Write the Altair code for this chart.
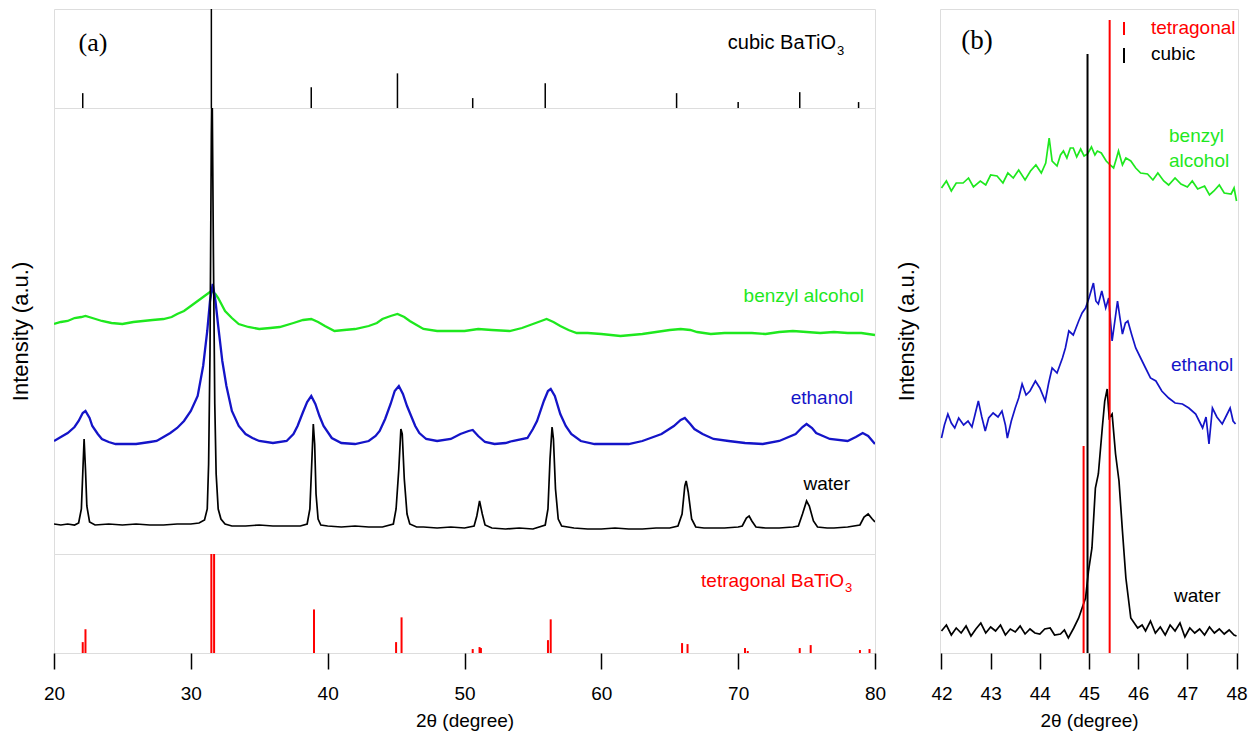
import altair as alt
import pandas as pd

# ---------------- panel (a) reference sticks ----------------
cubic_pos = [22.1, 31.5, 38.8, 45.1, 50.6, 55.9, 65.5, 70.0, 74.5, 78.8]
cubic_int = [15, 100, 21, 35, 10, 25, 15, 6, 16, 6]

tet_pos = [22.1, 22.3, 31.5, 31.7, 39.0, 45.0, 45.4, 50.6, 51.1, 51.2,
           56.1, 56.3, 65.9, 66.3, 70.5, 70.7, 74.5, 75.3, 78.9, 79.6]
tet_int = [11, 24, 100, 100, 44, 11, 36, 4, 6, 5,
           13, 34, 10, 9, 5, 2, 5, 8, 3, 4]

# ---------------- panel (a) patterns ----------------
water_a_x = [20.0, 20.5, 21.0, 21.5, 21.8, 22.0, 22.1, 22.2, 22.3, 22.4, 22.6, 23.0, 24, 25, 26, 27, 28, 29, 30,
             30.6, 31.0, 31.2, 31.3, 31.4, 31.5, 31.55, 31.65, 31.75, 31.85, 32.0, 32.2, 32.5, 33, 34, 35, 36, 37, 38,
             38.5, 38.7, 38.85, 38.95, 39.05, 39.15, 39.3, 39.5, 40, 41, 42, 43, 44, 44.8, 45.0, 45.2, 45.35, 45.45,
             45.6, 45.8, 46.0, 46.5, 47, 48, 49, 50, 50.7, 50.9, 51.1, 51.3, 51.5, 52, 53, 54, 55, 55.9, 56.1, 56.25,
             56.4, 56.5, 56.65, 56.85, 57.1, 58, 59, 60, 61, 62, 63, 64, 65, 65.6, 65.9, 66.1, 66.2, 66.35, 66.6, 66.9,
             67.5, 68, 69, 70, 70.3, 70.6, 70.8, 71.0, 71.3, 72, 73, 74, 74.4, 74.7, 75.0, 75.2, 75.5, 75.8, 76.5, 77,
             78, 78.9, 79.2, 79.5, 79.8, 80]
water_a_y = [30, 29, 30, 29, 31, 45, 80, 115, 85, 48, 32, 29, 30, 29, 30, 29, 29, 30, 30,
             31, 34, 45, 90, 200, 420, 480, 300, 150, 80, 45, 35, 30, 28, 28, 29, 28, 28, 28,
             30, 45, 95, 130, 110, 60, 35, 29, 28, 27, 28, 27, 27, 30, 45, 85, 125, 120,
             75, 40, 30, 27, 27, 26, 27, 26, 28, 38, 53, 40, 29, 26, 25, 26, 25, 29, 45, 95,
             127, 115, 65, 35, 28, 26, 25, 25, 26, 25, 25, 26, 26, 28, 40, 68, 73, 62, 35, 27,
             26, 26, 26, 27, 28, 36, 38, 33, 27, 26, 26, 27, 28, 40, 53, 48, 33, 27, 26, 26,
             27, 29, 37, 40, 35, 32]

eth_a_x = [20, 20.5, 21, 21.5, 21.8, 22.1, 22.3, 22.6, 22.8, 23.2, 23.5, 24, 24.5, 25, 26, 27, 27.5, 28, 28.5, 29,
           29.5, 30.0, 30.5, 30.9, 31.2, 31.4, 31.6, 31.8, 32.0, 32.3, 32.6, 33.0, 33.5, 34, 34.5, 35, 36, 37, 37.5,
           37.8, 38.2, 38.5, 38.8, 39.1, 39.4, 39.7, 40.3, 41, 42, 43, 43.5, 43.8, 44.2, 44.6, 44.9, 45.2, 45.5, 45.8,
           46.1, 46.4, 46.7, 47.2, 48, 49, 49.7, 50.3, 50.6, 51.0, 51.5, 52.2, 53, 53.5, 54.6, 55.0, 55.3, 55.8, 56.1,
           56.3, 56.6, 57.0, 57.4, 57.8, 58.5, 59.5, 61, 62, 63, 64.4, 65.3, 65.8, 66.1, 66.5, 66.8, 67.4, 68.2, 69.3,
           70.5, 71.8, 73, 74.2, 74.7, 75.0, 75.4, 75.7, 76.7, 78, 78.6, 79.1, 79.5, 80]
eth_a_y = [113, 117, 121, 127, 133, 141, 143, 136, 128, 120, 115, 112, 110, 110, 110, 112, 113, 117, 121, 126,
           133, 143, 158, 188, 223, 253, 270, 253, 228, 193, 168, 143, 128, 120, 116, 113, 111, 113, 120,
           128, 142, 152, 158, 150, 138, 128, 116, 111, 110, 113, 118, 123, 135, 150, 163, 168, 160, 148,
           138, 128, 121, 115, 113, 115, 120, 123, 124, 118, 112, 110, 111, 113, 116, 125, 133, 153, 163,
           165, 158, 140, 128, 120, 113, 110, 110, 110, 113, 120, 128, 134, 136, 130, 125, 120, 115, 113,
           111, 110, 113, 120, 127, 130, 126, 121, 115, 113, 117, 121, 118, 110]

benz_a_x = [20, 20.5, 21, 21.5, 22, 22.3, 22.8, 23.5, 24.2, 25, 25.8, 26.5, 27.2, 28, 28.6, 29, 29.5, 30, 30.5, 30.8,
            31.2, 31.5, 31.8, 32.0, 32.5, 33, 33.5, 34.2, 35, 35.8, 36.5, 37.5, 38.2, 38.8, 39.3, 39.8, 40.5, 41.2,
            42, 43, 43.6, 44, 44.6, 45.1, 45.6, 46, 46.5, 47, 48, 49, 50, 51, 52, 53.3, 54.2, 55, 55.6, 56.0, 56.5,
            57, 57.6, 58.2, 59, 60, 61.4, 62.2, 63, 64, 65, 65.8, 66.5, 67, 68, 69, 70, 71, 72, 73, 74, 75, 76, 77,
            78, 79, 80]
benz_a_y = [230, 232, 233, 236, 237, 238, 236, 233, 231, 230, 232, 233, 234, 235, 237, 240, 243, 248, 253, 256,
            260, 263, 260, 256, 243, 236, 230, 227, 225, 226, 227, 231, 234, 235, 232, 228, 223, 224,
            225, 228, 231, 235, 238, 240, 237, 233, 229, 225, 223, 223, 223, 225, 224, 223, 226, 230, 233, 235, 232,
            228, 224, 221, 221, 220, 218, 219, 220, 222, 224, 225, 224, 222, 220, 221, 221, 221, 220, 222, 223, 222,
            221, 222, 221, 221, 219]

# ---------------- panel (b) patterns ----------------
water_b_x = [42.0, 42.1, 42.2, 42.3, 42.4, 42.5, 42.6, 42.7, 42.8, 42.9, 43.0, 43.1, 43.2, 43.3, 43.4, 43.5, 43.6,
             43.7, 43.8, 43.9, 44.0, 44.1, 44.21, 44.3, 44.42, 44.5, 44.58, 44.69, 44.79, 44.86, 44.93, 44.99, 45.06,
             45.13, 45.19, 45.27, 45.32, 45.37, 45.41, 45.47, 45.54, 45.61, 45.68, 45.75, 45.85, 45.99, 46.08, 46.15,
             46.25, 46.35, 46.45, 46.55, 46.65, 46.75, 46.85, 46.95, 47.05, 47.15, 47.25, 47.35, 47.45, 47.55, 47.65,
             47.75, 47.85, 47.95, 48.0]
water_b_y = [22, 28, 18, 25, 20, 27, 17, 24, 30, 20, 26, 22, 28, 18, 24, 21, 27,
             19, 24, 20, 19, 24, 25, 18, 19, 23, 15, 25, 35, 45, 55, 82, 105,
             165, 179, 225, 252, 264, 235, 239, 199, 172, 122, 75, 35, 25, 28, 22,
             32, 20, 26, 18, 28, 22, 30, 16, 25, 20, 24, 18, 26, 20, 24,
             19, 23, 18, 17]

eth_b_x = [42.0, 42.06, 42.13, 42.2, 42.27, 42.35, 42.45, 42.54, 42.62, 42.68, 42.75, 42.82, 42.89, 42.96, 43.05,
           43.15, 43.23, 43.3, 43.34, 43.42, 43.5, 43.57, 43.64, 43.72, 43.8, 43.91, 44.0, 44.11, 44.18, 44.25, 44.35,
           44.46, 44.52, 44.59, 44.68, 44.79, 44.86, 44.93, 45.0, 45.09, 45.14, 45.19, 45.26, 45.34, 45.4, 45.47,
           45.52, 45.58, 45.63, 45.68, 45.74, 45.79, 45.87, 45.95, 46.05, 46.15, 46.25, 46.36, 46.48, 46.62, 46.75,
           46.9, 47.03, 47.17, 47.24, 47.31, 47.38, 47.44, 47.51, 47.6, 47.71, 47.8, 47.87, 47.93, 47.98]
eth_b_y = [215, 228, 239, 230, 225, 235, 228, 232, 226, 238, 252, 236, 222, 235, 240,
           236, 242, 228, 215, 232, 245, 255, 269, 258, 262, 272, 265, 252, 270, 285, 280,
           295, 305, 322, 318, 332, 340, 345, 355, 370, 352, 349, 362, 345, 355, 312,
           330, 352, 335, 319, 330, 332, 318, 305, 295, 285, 275, 272, 262, 255, 250,
           249, 245, 239, 232, 225, 236, 209, 245, 236, 229, 238, 245, 232, 229]

benz_b_x = [42.0, 42.1, 42.2, 42.3, 42.44, 42.55, 42.65, 42.79, 42.9, 43.0, 43.13, 43.25, 43.35, 43.46, 43.57, 43.7,
            43.81, 43.92, 44.03, 44.12, 44.19, 44.25, 44.35, 44.42, 44.48, 44.55, 44.62, 44.68, 44.75, 44.83, 44.9,
            44.97, 45.05, 45.12, 45.17, 45.25, 45.35, 45.43, 45.5, 45.56, 45.6, 45.68, 45.75, 45.85, 45.95, 46.05,
            46.19, 46.3, 46.4, 46.52, 46.62, 46.75, 46.87, 47.0, 47.1, 47.21, 47.35, 47.45, 47.54, 47.65, 47.75,
            47.89, 47.95, 48.0]
benz_b_y = [465, 472, 462, 470, 470, 475, 466, 472, 468, 478, 477, 470, 480, 475, 483, 473,
            482, 488, 480, 490, 515, 492, 487, 498, 502, 495, 505, 505, 496, 504, 497,
            499, 506, 498, 502, 500, 492, 488, 485, 495, 502, 488, 495, 492, 485, 480,
            479, 473, 480, 472, 468, 475, 469, 466, 472, 464, 467, 458, 462, 468, 460,
            459, 465, 452]

# reference lines in panel (b)
bref_pos = [44.97, 44.89, 45.42]
bref_int = [599, 207, 633]
bref_phase = ["cubic", "tetragonal", "tetragonal"]

ticks_a = [20, 30, 40, 50, 60, 70, 80]
ticks_b = [42, 43, 44, 45, 46, 47, 48]

BLACK = "#000000"
BLUE = "#1414c8"
GREEN = "#1ee81e"
RED = "#ff0000"
SANS = "Liberation Sans"
SERIF = "Liberation Serif"

W_A, H_TOP, H_MID, H_BOT = 821, 99, 446, 99
W_B, H_B = 298, 644

xa = alt.Scale(domain=[20, 80], nice=False, zero=False)
xb = alt.Scale(domain=[41.97, 48.03], nice=False, zero=False)


def sticks(pos, inten):
    return pd.DataFrame({"pos": pos, "h": inten, "base": [0] * len(pos)})


def series(xs, ys):
    return pd.DataFrame({"x": xs, "y": ys})


def label(text, x, y, color=BLACK, size=19, align="left", font=SANS, baseline="middle", lb=None, lh=None):
    kw = dict(align=align, baseline=baseline, fontSize=size, font=font, color=color)
    if lb is not None:
        kw["lineBreak"] = lb
        kw["lineHeight"] = lh
    return alt.Chart(pd.DataFrame({"t": [text]})).mark_text(**kw).encode(
        text="t:N", x=alt.value(x), y=alt.value(y))


def ytitle_axis():
    return alt.Axis(title="Intensity (a.u.)", labels=False, ticks=False, domain=False, grid=False,
                    titleFontSize=22, titleFontWeight="normal", titleColor=BLACK, titleFont=SANS,
                    titlePadding=22)


def xaxis(values):
    return alt.Axis(values=values, tickSize=16, tickWidth=1.5, tickColor=BLACK, labelFontSize=19,
                    labelColor=BLACK, labelFont=SANS, labelPadding=15, title="2θ (degree)", titleFontSize=19,
                    titleFontWeight="normal", titleFont=SANS, titleColor=BLACK, titlePadding=8, domain=False,
                    grid=False, labelFlush=False)


# ---- top subpanel: cubic ----
top_rules = alt.Chart(sticks(cubic_pos, cubic_int)).mark_rule(color=BLACK, strokeWidth=1.5).encode(
    x=alt.X("pos:Q", scale=xa, axis=None),
    y=alt.Y("h:Q", scale=alt.Scale(domain=[0, 100], nice=False), axis=None),
    y2="base:Q",
)
top = alt.layer(
    top_rules,
    label("(a)", 39, 34, size=26, align="center", font=SERIF),
    label("cubic BaTiO", 782, 34, size=20, align="right"),
    label("3", 783, 42, size=13),
).properties(width=W_A, height=H_TOP)

# ---- middle subpanel: patterns ----
ysc = alt.Scale(domain=[0, 446], nice=False, zero=False)


def trace(df, color, width):
    return alt.Chart(df).mark_line(color=color, strokeWidth=width, clip=True).encode(
        x=alt.X("x:Q", scale=xa, axis=None),
        y=alt.Y("y:Q", scale=ysc, axis=ytitle_axis()),
    )


mid = alt.layer(
    trace(series(benz_a_x, benz_a_y), GREEN, 2.3),
    trace(series(eth_a_x, eth_a_y), BLUE, 2.3),
    trace(series(water_a_x, water_a_y), BLACK, 1.7),
    label("benzyl alcohol", 810, 188, color=GREEN, align="right"),
    label("ethanol", 799, 290, color=BLUE, align="right"),
    label("water", 796, 376, color=BLACK, align="right"),
).properties(width=W_A, height=H_MID)

# ---- bottom subpanel: tetragonal ----
bot_rules = alt.Chart(sticks(tet_pos, tet_int)).mark_rule(color=RED, strokeWidth=2).encode(
    x=alt.X("pos:Q", scale=xa, axis=xaxis(ticks_a)),
    y=alt.Y("h:Q", scale=alt.Scale(domain=[0, 100], nice=False), axis=None),
    y2="base:Q",
)
bot = alt.layer(
    bot_rules,
    label("tetragonal BaTiO", 790, 27, color=RED, size=19, align="right"),
    label("3", 791, 34, color=RED, size=13),
).properties(width=W_A, height=H_BOT)

panel_a = alt.vconcat(top, mid, bot, spacing=0, bounds="flush").resolve_scale(x="independent", y="independent")

# ---- panel (b) ----
ybsc = alt.Scale(domain=[0, 644], nice=False, zero=False)


def btrace(df, color, width):
    return alt.Chart(df).mark_line(color=color, strokeWidth=width, clip=True).encode(
        x=alt.X("x:Q", scale=xb, axis=xaxis(ticks_b)),
        y=alt.Y("y:Q", scale=ybsc, axis=ytitle_axis()),
    )


bref_df = pd.DataFrame({"pos": bref_pos, "h": bref_int, "phase": bref_phase, "base": [0, 0, 0]})
bref = alt.Chart(bref_df).mark_rule(strokeWidth=2).encode(
    x=alt.X("pos:Q", scale=xb, axis=xaxis(ticks_b)),
    y=alt.Y("h:Q", scale=ybsc, axis=ytitle_axis()),
    y2="base:Q",
    color=alt.Color("phase:N", scale=alt.Scale(domain=["cubic", "tetragonal"], range=[BLACK, RED]), legend=None),
)

leg_red = alt.Chart(pd.DataFrame({"k": ["tetragonal"]})).mark_rule(color=RED, strokeWidth=2).encode(
    x=alt.value(184), y=alt.value(13), y2=alt.value(26))
leg_blk = alt.Chart(pd.DataFrame({"k": ["cubic"]})).mark_rule(color=BLACK, strokeWidth=2).encode(
    x=alt.value(184), y=alt.value(39), y2=alt.value(54))

panel_b = alt.layer(
    btrace(series(benz_b_x, benz_b_y), GREEN, 1.7),
    btrace(series(eth_b_x, eth_b_y), BLUE, 1.7),
    btrace(series(water_b_x, water_b_y), BLACK, 1.7),
    bref,
    leg_red,
    leg_blk,
    label("tetragonal", 211, 19, color=RED),
    label("cubic", 211, 45, color=BLACK),
    label("(b)", 37, 32, size=27, align="center", font=SERIF),
    label("benzyl\nalcohol", 229, 127, color=GREEN, lb="\n", lh=25),
    label("ethanol", 231, 356, color=BLUE),
    label("water", 234, 587, color=BLACK),
).properties(width=W_B, height=H_B)

chart = alt.hconcat(panel_a, panel_b, spacing=7).resolve_scale(
    x="independent", y="independent"
).properties(
    padding={"left": 8, "top": 7, "right": 5, "bottom": 2},
    background="white",
).configure_view(stroke=BLACK, strokeWidth=1.8).configure(font=SANS)

chart.save("out.html", embed_options={"renderer": "svg", "actions": False})
